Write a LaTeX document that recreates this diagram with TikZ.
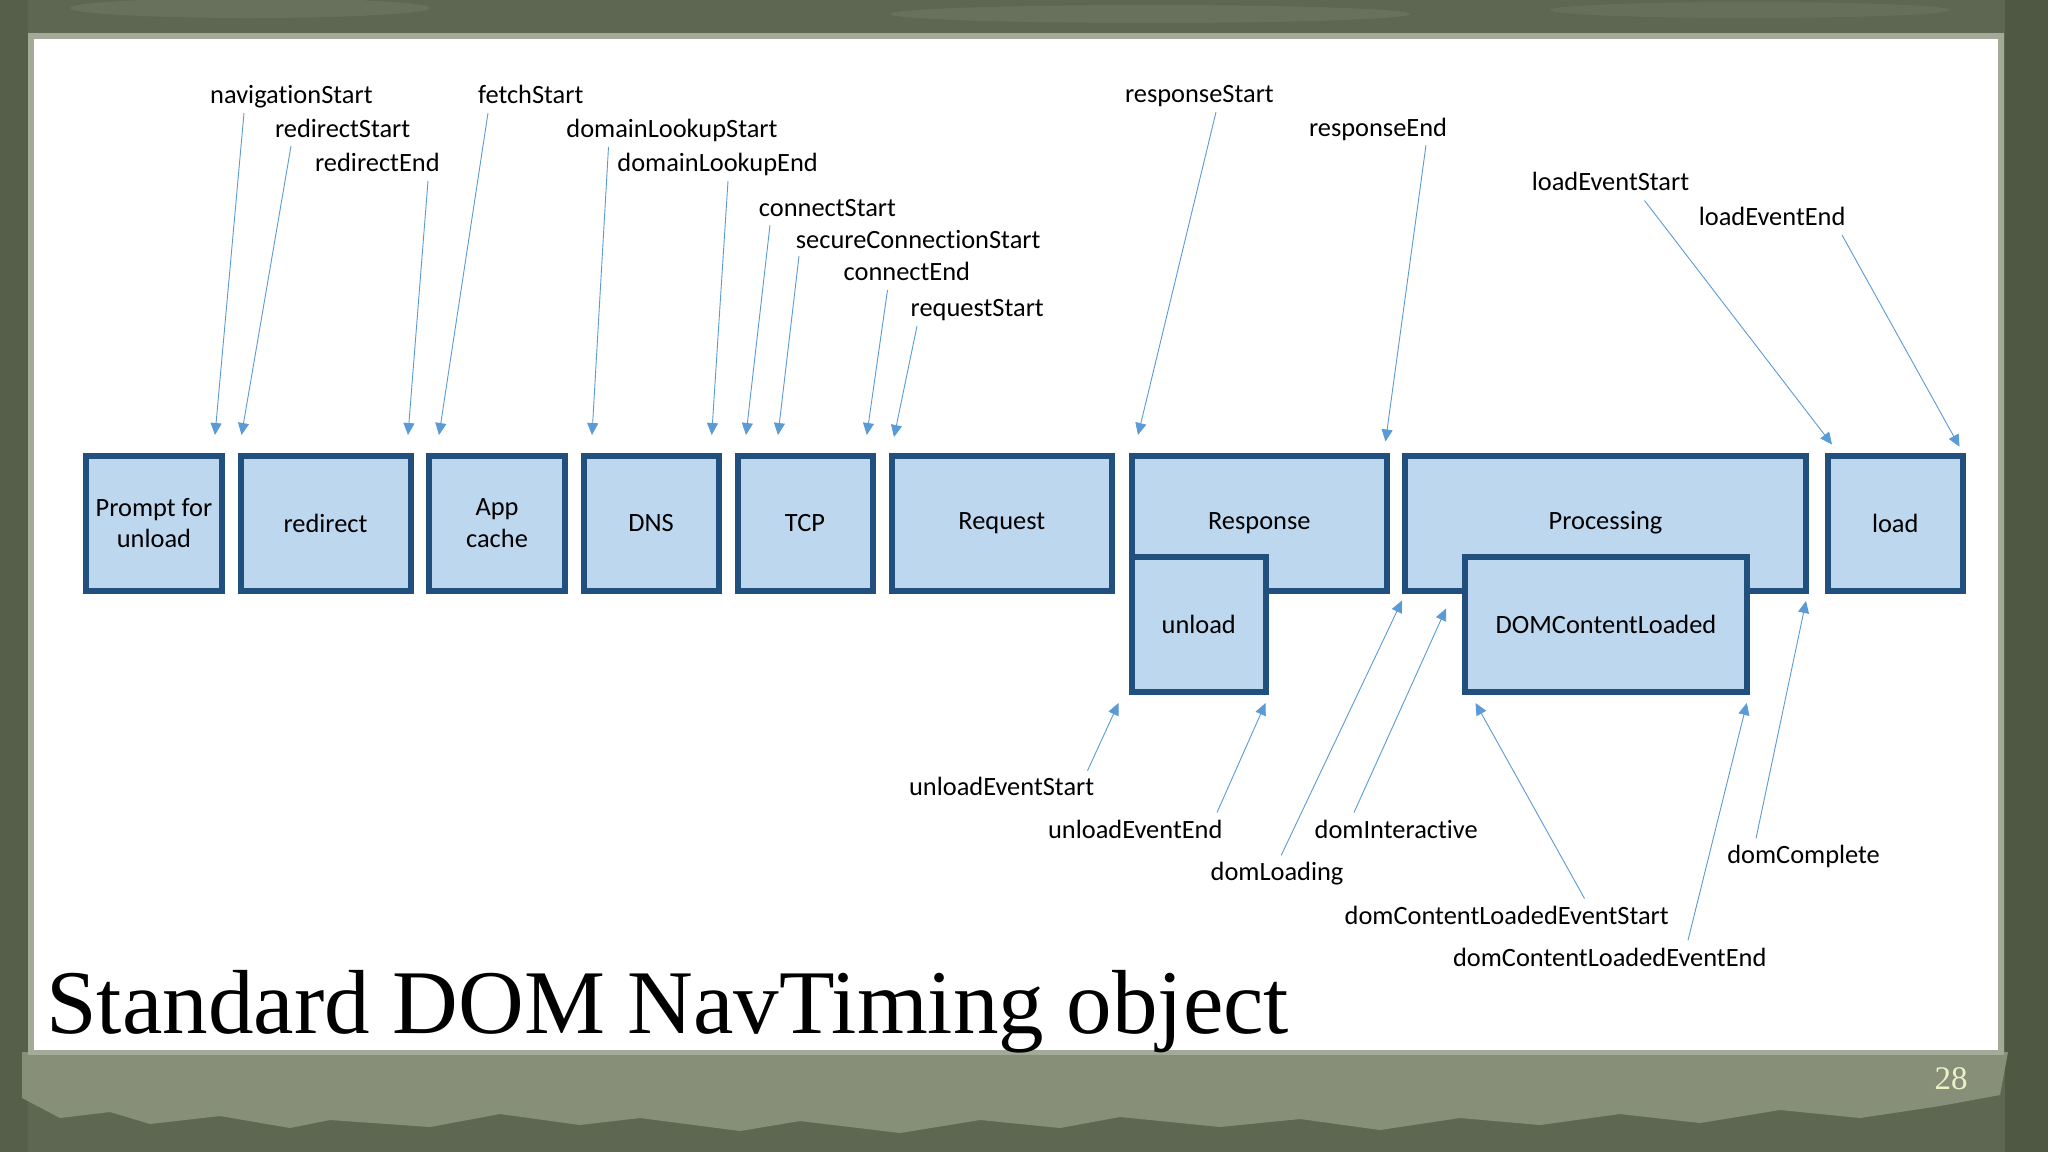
\documentclass[tikz,border=0pt]{standalone}
\usepackage{fontspec}
\setmainfont{Carlito}[Ligatures={NoCommon}]
\newfontfamily\titlefont{Liberation Serif}
\usetikzlibrary{arrows.meta}
\definecolor{boxfill}{HTML}{BDD7EE}
\definecolor{boxline}{HTML}{21507F}
\definecolor{arrowc}{HTML}{5B9BD5}
\definecolor{bgdark}{HTML}{5D6751}
\definecolor{bgdeep}{HTML}{4E5843}
\definecolor{bglight}{HTML}{878F79}
\definecolor{framec}{HTML}{A4AA98}
\definecolor{numc}{HTML}{EEF0C8}
\begin{document}
\begin{tikzpicture}[x=0.5pt,y=-0.5pt,
  lbl/.style={anchor=base west, inner sep=0pt, font=\fontsize{13.2}{15.8}\selectfont, text=black},
  phase/.style={draw=boxline, line width=3pt, fill=boxfill, inner sep=0pt, align=center,
     minimum height=67.5pt, font=\fontsize{13.2}{15.85}\selectfont, text=black},
  tl/.style={draw=arrowc, line width=0.45pt, -{Triangle[length=6pt,width=5.5pt]}}
]
% ---------- background ----------
\useasboundingbox (0,0) rectangle (2048,1152);
\fill[bgdark] (0,0) rectangle (2048,1152);
\fill[bgdeep] (2005,0) rectangle (2048,1152);
\fill[bgdeep,opacity=0.5] (0,0) rectangle (28,1152);
\fill[bglight,opacity=0.25] (250,8) ellipse [x radius=180, y radius=10];
\fill[bglight,opacity=0.25] (1150,14) ellipse [x radius=260, y radius=9];
\fill[bglight,opacity=0.2] (1750,10) ellipse [x radius=200, y radius=8];
\fill[bglight] (22,1052) -- (22,1098) -- (60,1118) -- (110,1112) -- (150,1124) -- (220,1116)
  -- (290,1128) -- (330,1120) -- (430,1127) -- (500,1114) -- (580,1125) -- (640,1118)
  -- (740,1131) -- (800,1121) -- (900,1133) -- (980,1120) -- (1060,1128) -- (1120,1117)
  -- (1220,1127) -- (1300,1119) -- (1380,1130) -- (1460,1118) -- (1540,1125) -- (1620,1114)
  -- (1700,1123) -- (1780,1110) -- (1860,1118) -- (1940,1106) -- (2000,1095) -- (2008,1052) -- cycle;
\fill[framec] (27.5,32.5) rectangle (2004,1055);
\fill[white] (33.5,38.5) rectangle (1998,1050);

% ---------- phase boxes ----------
\node[phase, minimum width=68pt]     (prompt)   at (154,523)     {Prompt for\\unload};
\node[phase, minimum width=85pt]     (redirect) at (325.5,523)   {redirect};
\node[phase, minimum width=68pt]     (appcache) at (497,523)     {App\\cache};
\node[phase, minimum width=67.5pt]   (dns)      at (651,523)     {DNS};
\node[phase, minimum width=67.5pt]   (tcp)      at (805,523)     {TCP};
\node[phase, minimum width=110.25pt] (request)  at (1001.75,523) {Request};
\node[phase, minimum width=127.75pt] (response) at (1259.25,523) {Response};
\node[phase, minimum width=67.25pt]  (unload)   at (1198.75,624.5) {unload};
\node[phase, minimum width=200.5pt]  (processing) at (1605.5,523) {Processing};
\node[phase, minimum width=141pt]    (dcl)      at (1606,624.5)    {DOMContentLoaded};
\node[phase, minimum width=67.75pt]  (load)     at (1895.25,523) {load};

% ---------- top labels ----------
\node[lbl] (navigationStart) at (209.8,103) {navigationStart};
\node[lbl] (redirectStart) at (274.6,137) {redirectStart};
\node[lbl] (redirectEnd) at (314.7,171.5) {redirectEnd};
\node[lbl] (fetchStart) at (477.7,103) {fetchStart};
\node[lbl] (domainLookupStart) at (566,137) {domainLookupStart};
\node[lbl] (domainLookupEnd) at (617,171.5) {domainLookupEnd};
\node[lbl] (connectStart) at (758.5,216.7) {connectStart};
\node[lbl] (secureConnectionStart) at (795.5,248.3) {secureConnectionStart};
\node[lbl] (connectEnd) at (843.3,280) {connectEnd};
\node[lbl] (requestStart) at (910.3,316) {requestStart};
\node[lbl] (responseStart) at (1124.6,102.7) {responseStart};
\node[lbl] (responseEnd) at (1308.6,136.7) {responseEnd};
\node[lbl] (loadEventStart) at (1531.4,190.7) {loadEventStart};
\node[lbl] (loadEventEnd) at (1698.4,225) {loadEventEnd};

% ---------- bottom labels ----------
\node[lbl] (unloadEventStart) at (908.7,795) {unloadEventStart};
\node[lbl] (unloadEventEnd) at (1047.7,838.3) {unloadEventEnd};
\node[lbl] (domLoading) at (1210.3,880) {domLoading};
\node[lbl] (domInteractive) at (1314.3,838.3) {domInteractive};
\node[lbl] (domContentLoadedEventStart) at (1344.3,924) {domContentLoadedEventStart};
\node[lbl] (domContentLoadedEventEnd) at (1452.7,966) {domContentLoadedEventEnd};
\node[lbl] (domComplete) at (1726.9,863.3) {domComplete};

% ---------- connector end points ----------
\coordinate (s1) at (244,113);    \coordinate (t1) at (215,435);
\coordinate (s2) at (291,146);    \coordinate (t2) at (241.5,435);
\coordinate (s3) at (428,181);    \coordinate (t3) at (408,435);
\coordinate (s4) at (488,113);    \coordinate (t4) at (439,435);
\coordinate (s5) at (608.5,147);  \coordinate (t5) at (592,435);
\coordinate (s6) at (728,181);    \coordinate (t6) at (711.7,435);
\coordinate (s7) at (770,225);    \coordinate (t7) at (746,435);
\coordinate (s8) at (799,256);    \coordinate (t8) at (778,435);
\coordinate (s9) at (887.5,290);  \coordinate (t9) at (866.8,435);
\coordinate (s10) at (917,326);   \coordinate (t10) at (894,437);
\coordinate (s11) at (1216,112);  \coordinate (t11) at (1138,435);
\coordinate (s12) at (1426,145);  \coordinate (t12) at (1385.5,441.5);
\coordinate (s13) at (1644.5,200.5); \coordinate (t13) at (1832,444.5);
\coordinate (s14) at (1842,235);  \coordinate (t14) at (1959.5,446.7);
\coordinate (s15) at (1087.5,770.7); \coordinate (t15) at (1118.5,703);
\coordinate (s16) at (1217,812.5);   \coordinate (t16) at (1265.5,703);
\coordinate (s17) at (1281.2,855.3); \coordinate (t17) at (1402,600.5);
\coordinate (s18) at (1354,812.5);   \coordinate (t18) at (1446,608.5);
\coordinate (s19) at (1584.5,898.5); \coordinate (t19) at (1475.5,703);
\coordinate (s20) at (1688,940.2);   \coordinate (t20) at (1746.8,703);
\coordinate (s21) at (1756,838.3);   \coordinate (t21) at (1806,601);

\foreach \i in {1,...,21} { \draw[tl] (s\i) -- (t\i); }

% ---------- title and page number ----------
\node[anchor=base west, inner sep=0pt, font=\titlefont\fontsize{45.5}{50}\selectfont] (title)
  at (46,1033) {Standard DOM NavTiming object};
\node[anchor=base east, inner sep=0pt, font=\titlefont\fontsize{16.5}{18}\selectfont, text=numc] (pagenum)
  at (1968,1089) {28};
\end{tikzpicture}
\end{document}
